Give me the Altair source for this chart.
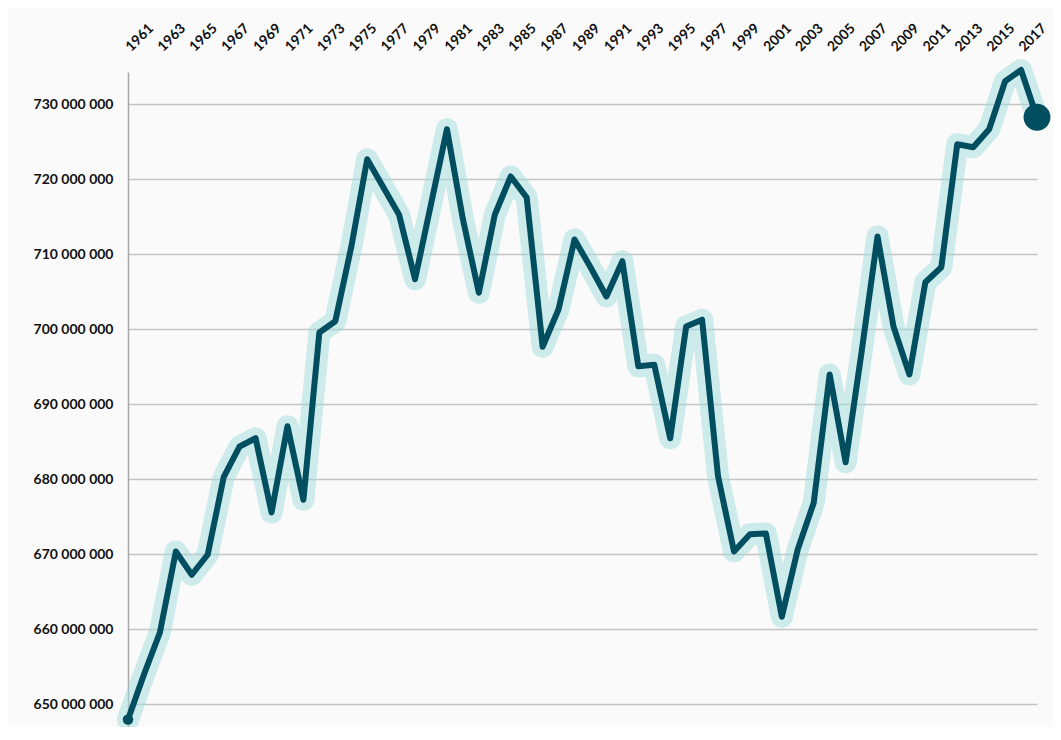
import altair as alt
import pandas as pd

years = list(range(1961, 2019))
values_millions = [
    648.0, 654.0, 659.6, 670.4, 667.3, 670.0, 680.3, 684.4, 685.5, 675.6,
    687.1, 677.3, 699.6, 701.1, 711.0, 722.7, 719.0, 715.3, 706.7, 716.7,
    726.7, 714.7, 704.9, 715.3, 720.4, 717.6, 697.7, 702.7, 712.0, 708.3,
    704.4, 709.1, 695.1, 695.3, 685.5, 700.4, 701.3, 680.4, 670.4, 672.7,
    672.8, 661.7, 670.7, 676.9, 694.0, 682.3, 697.0, 712.4, 700.4, 694.0,
    706.3, 708.3, 724.7, 724.3, 726.7, 733.1, 734.6, 728.3,
]
x_ticks = list(range(1961, 2018, 2))
y_ticks = [650e6, 660e6, 670e6, 680e6, 690e6, 700e6, 710e6, 720e6, 730e6]

df = pd.DataFrame({"year": years, "value": [v * 1e6 for v in values_millions]})

DARK = "#004e5f"
HALO = "#9fdcda"

x_enc = alt.X(
    "year:Q",
    scale=alt.Scale(domain=[1961, 2018], nice=False, zero=False),
    axis=alt.Axis(
        orient="top", values=x_ticks, format="d", title=None,
        labelAngle=315, labelAlign="left", labelBaseline="middle",
        labelPadding=23, labelFont="Lato", labelFontSize=14,
        labelFontWeight="bold", labelColor="#111111",
        domain=False, ticks=False, grid=False, labelOverlap=False,
    ),
)
y_enc = alt.Y(
    "value:Q",
    scale=alt.Scale(domain=[647e6, 734.33e6], nice=False, zero=False),
    axis=alt.Axis(
        values=y_ticks, title=None,
        labelExpr="replace(replace(format(datum.value, ','), ',', ' '), ',', ' ')",
        labelFont="Lato", labelFontSize=14, labelFontWeight="bold",
        labelColor="#111111", labelPadding=15,
        domain=True, domainColor="#a8a8a8", domainWidth=1.5,
        ticks=False, grid=True, gridColor="#c4c4c4", gridWidth=1.5,
    ),
)

base = alt.Chart(df)

halo = base.mark_line(
    color=HALO, opacity=0.5, strokeWidth=22, strokeCap="round", strokeJoin="round"
).encode(x=x_enc, y=y_enc)

line = base.mark_line(
    color=DARK, strokeWidth=6, strokeCap="round", strokeJoin="round"
).encode(x=x_enc, y=y_enc)

start_pt = base.transform_filter(alt.datum.year == 1961).mark_circle(
    color=DARK, opacity=1, size=110
).encode(x=x_enc, y=y_enc)

end_pt = base.transform_filter(alt.datum.year == 2018).mark_circle(
    color=DARK, opacity=1, size=720
).encode(x=x_enc, y=y_enc)

chart = (
    alt.layer(halo, line, start_pt, end_pt)
    .properties(
        width=909,
        height=655,
        background="#fafafa",
        padding={"left": 120, "top": 64, "right": 16, "bottom": 0},
        autosize=alt.AutoSizeParams(type="none"),
    )
    .configure_view(stroke=None)
)

chart.save("out.html", embed_options={"renderer": "svg", "actions": False})
